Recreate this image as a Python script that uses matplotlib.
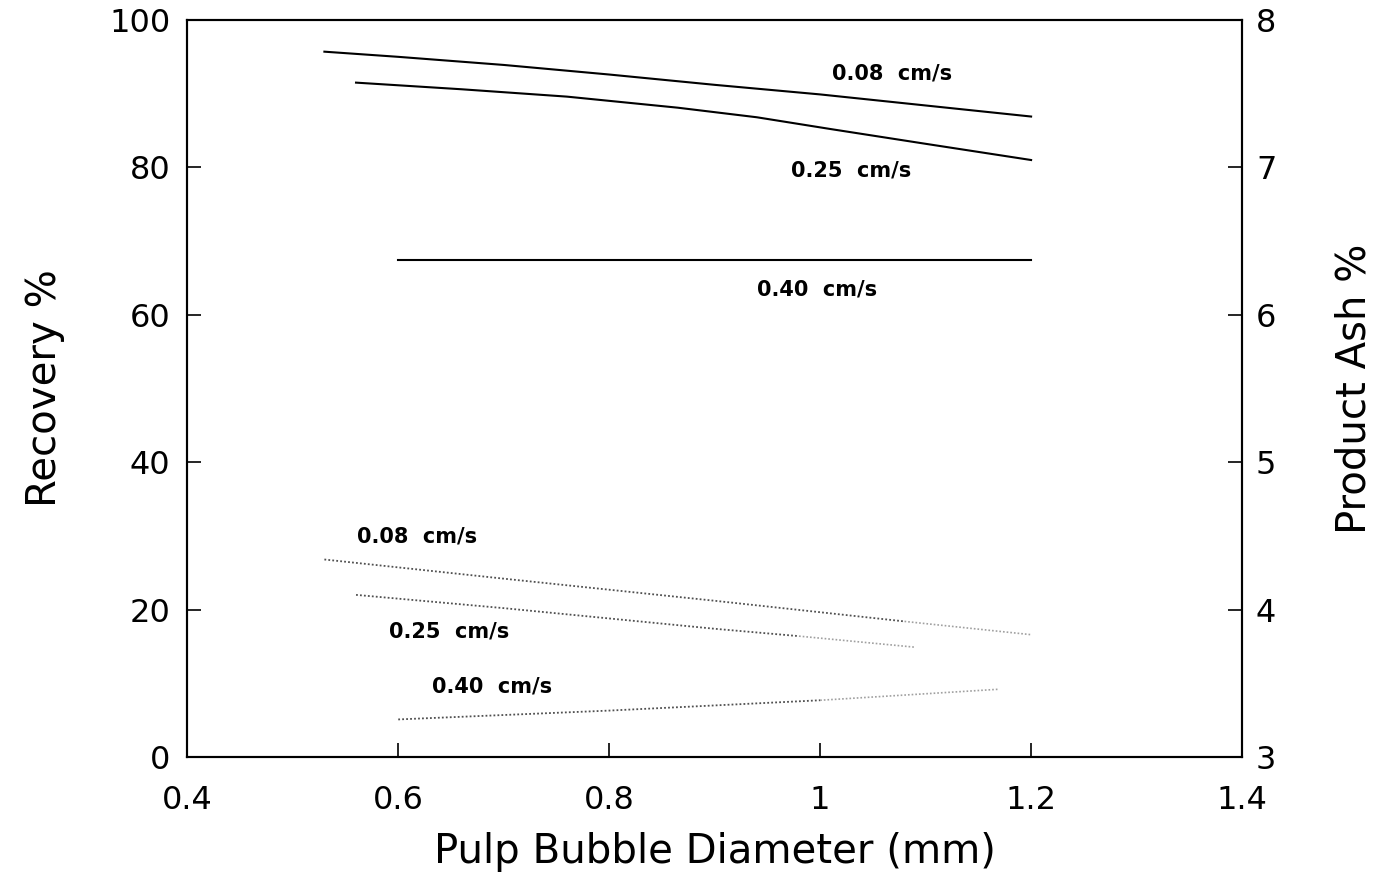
import numpy as np
import matplotlib.pyplot as plt

plt.rcParams['font.family'] = ['DejaVu Sans']

# recovery curves (left axis), solid
rec_x_008 = [0.53, 0.6, 0.7, 0.8, 0.9, 1.0, 1.1, 1.2]
rec_y_008 = [95.7, 95.0, 93.9, 92.6, 91.2, 89.9, 88.4, 86.9]
rec_x_025 = [0.56, 0.66, 0.76, 0.865, 0.94, 1.01, 1.1, 1.2]
rec_y_025 = [91.5, 90.6, 89.6, 88.1, 86.8, 85.2, 83.2, 81.0]
rec_x_040 = [0.6, 0.8, 1.0, 1.2]
rec_y_040 = [67.5, 67.5, 67.5, 67.5]

# product ash curves (right axis), dotted
ash_x_008 = [0.53, 0.7, 0.9, 1.08, 1.2]
ash_y_008 = [4.34, 4.21, 4.06, 3.92, 3.83]
ash_x_025 = [0.56, 0.7, 0.9, 0.98, 1.09]
ash_y_025 = [4.10, 4.01, 3.87, 3.82, 3.745]
ash_x_040 = [0.6, 0.8, 1.0, 1.17]
ash_y_040 = [3.255, 3.315, 3.385, 3.46]

xticks = [0.4, 0.6, 0.8, 1.0, 1.2, 1.4]
xticklabels = ['0.4', '0.6', '0.8', '1', '1.2', '1.4']

fig = plt.figure(figsize=(13.77, 8.88), dpi=100)
ax = fig.add_axes([0.136, 0.1475, 0.766, 0.83])
ax2 = ax.twinx()

ax.plot(rec_x_008, rec_y_008, color='black', lw=1.5)
ax.plot(rec_x_025, rec_y_025, color='black', lw=1.5)
ax.plot(rec_x_040, rec_y_040, color='black', lw=1.5)

# dotted ash lines fade out toward their right ends, as in the print
dots = (0, (1, 1.2))
for xs, ys, k in [(ash_x_008, ash_y_008, 4), (ash_x_025, ash_y_025, 4), (ash_x_040, ash_y_040, 3)]:
    ax2.plot(xs[:k], ys[:k], color='#505050', lw=1.3, ls=dots)
    ax2.plot(xs[k - 1:], ys[k - 1:], color='#a0a0a0', lw=1.2, ls=dots)

ax.set_xlim(0.4, 1.4)
ax.set_ylim(0, 100)
ax2.set_ylim(3, 8)
ax.set_xticks(xticks)
ax.set_xticklabels(xticklabels)
ax.set_yticks([0, 20, 40, 60, 80, 100])
ax2.set_yticks([3, 4, 5, 6, 7, 8])

for a in (ax, ax2):
    a.tick_params(direction='in', length=10, width=1.2, labelsize=23)
    for s in a.spines.values():
        s.set_linewidth(1.5)
ax.tick_params(axis='x', pad=20)
ax.tick_params(axis='y', pad=12)
ax2.tick_params(axis='y', pad=10)

ax.set_xlabel('Pulp Bubble Diameter (mm)', fontsize=29, labelpad=12)
ax.set_ylabel('Recovery %', fontsize=29, labelpad=32)
ax2.set_ylabel('Product Ash %', fontsize=29, labelpad=42, rotation=90)

lbl = dict(fontsize=15, ha='center', va='center', fontweight='bold')
ax.text(1.068, 92.8, '0.08  cm/s', **lbl)
ax.text(1.029, 79.6, '0.25  cm/s', **lbl)
ax.text(0.997, 63.4, '0.40  cm/s', **lbl)
ax.text(0.618, 29.9, '0.08  cm/s', **lbl)
ax.text(0.648, 17.0, '0.25  cm/s', **lbl)
ax.text(0.689, 9.6, '0.40  cm/s', **lbl)

fig.savefig('out.png', dpi=100)
